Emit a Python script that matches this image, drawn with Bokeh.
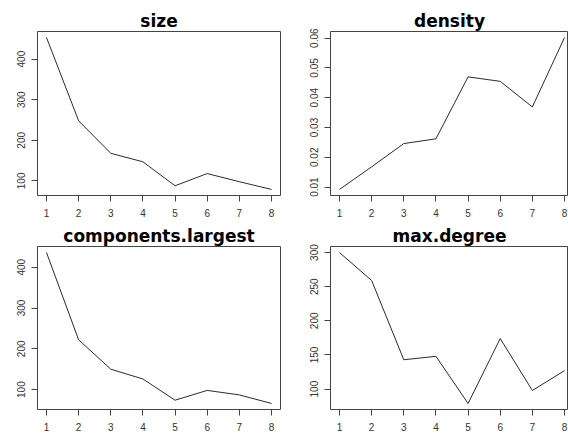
from bokeh.plotting import figure
from bokeh.layouts import column, row
from bokeh.models import FixedTicker, Range1d
from bokeh.embed import file_html
from bokeh.resources import INLINE

# ---- data ----
steps = [1, 2, 3, 4, 5, 6, 7, 8]
x_tick_labels = ["1", "2", "3", "4", "5", "6", "7", "8"]

size = [453, 248, 168, 147, 88, 118, 98, 79]
size_ticks = [100, 200, 300, 400]
size_labels = ["100", "200", "300", "400"]

density = [0.0092, 0.0168, 0.0246, 0.0262, 0.0470, 0.0455, 0.0369, 0.0602]
density_ticks = [0.01, 0.02, 0.03, 0.04, 0.05, 0.06]
density_labels = ["0.01", "0.02", "0.03", "0.04", "0.05", "0.06"]

components_largest = [436, 222, 150, 126, 74, 98, 87, 66]
comp_ticks = [100, 200, 300, 400]
comp_labels = ["100", "200", "300", "400"]

max_degree = [300, 259, 143, 148, 79, 174, 98, 127]
maxdeg_ticks = [100, 150, 200, 250, 300]
maxdeg_labels = ["100", "150", "200", "250", "300"]

TITLE_FONT = "DejaVu Sans"
TICK_FONT = "Liberation Sans"
FULL_FRAME_W = 243  # plot-region width of an uncut panel


def padded(vals):
    lo, hi = min(vals), max(vals)
    pad = 0.04 * (hi - lo)
    return lo - pad, hi + pad


def make(title, ys, yticks, ylabels, w, h, bl, br, bt, bb):
    x0, x1 = padded(steps)
    # the right-hand panels are cut off by the window edge, as in the original
    frame_w = w - bl - br
    x1 = x0 + (x1 - x0) * min(frame_w, FULL_FRAME_W) / FULL_FRAME_W
    y0, y1 = padded(ys)
    p = figure(width=w, height=h, x_range=Range1d(x0, x1), y_range=Range1d(y0, y1),
               output_backend="svg", toolbar_location=None,
               min_border_left=bl, min_border_right=br,
               min_border_top=bt, min_border_bottom=bb)
    p.title.text = title
    p.title.align = "center"
    p.title.text_font = TITLE_FONT
    p.title.text_font_size = "17px"
    p.title.text_font_style = "bold"
    p.title.text_color = "#000000"
    p.title.standoff = 1
    p.line(steps, ys, line_color="#2a2a2a", line_width=1)
    p.grid.visible = False
    p.outline_line_color = "#444444"
    p.outline_line_width = 1
    p.background_fill_color = "white"
    p.border_fill_color = "white"

    xa = p.xaxis[0]
    xa.ticker = FixedTicker(ticks=steps)
    xa.major_label_overrides = {t: l for t, l in zip(steps, x_tick_labels)}
    ya = p.yaxis[0]
    ya.ticker = FixedTicker(ticks=yticks)
    ya.major_label_overrides = {t: l for t, l in zip(yticks, ylabels)}
    ya.major_label_orientation = "vertical"
    for ax in (xa, ya):
        ax.axis_line_color = None
        ax.major_tick_in = 0
        ax.major_tick_out = 6
        ax.major_tick_line_color = "#444444"
        ax.minor_tick_line_color = None
        ax.major_label_text_font = TICK_FONT
        ax.major_label_text_font_size = "10px"
        ax.major_label_text_color = "#333333"
    xa.major_label_standoff = 7
    ya.major_label_standoff = 6
    return p


p1 = make("size", size, size_ticks, size_labels, 284, 220, 37, 4, 31, 25)
p2 = make("density", density, density_ticks, density_labels, 284, 220, 46, 0, 31, 25)
p3 = make("components.largest", components_largest, comp_ticks, comp_labels, 284, 213, 37, 4, 26, 24)
p4 = make("max.degree", max_degree, maxdeg_ticks, maxdeg_labels, 284, 213, 46, 0, 26, 24)

layout = column(row(p1, p2), row(p3, p4))

open("out.html", "w").write(file_html(layout, INLINE))
